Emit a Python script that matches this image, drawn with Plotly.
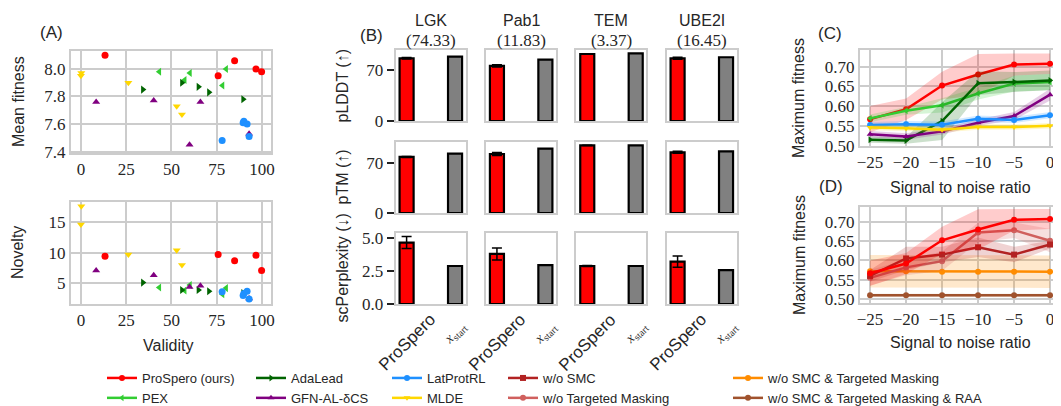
import plotly.graph_objects as go

# Reference canvas is 1061x406; the page body adds an 8px margin, so the figure
# is drawn 8px smaller and reference pixel positions are shifted by 8px.
W, H = 1061, 406
OFF = 8
FW, FH = W - OFF, H - OFF
SERIF = "Liberation Serif"
SANS = "Liberation Sans"
TXT = "#262626"
GRIDC = "#cccccc"

# ---------------- Data ----------------
# Panel A (validity vs mean fitness / novelty)
a_methods = ["ProSpero (ours)", "PEX", "AdaLead", "GFN-AL-δCS", "LatProtRL", "MLDE"]
a_validity_prospero = [13.3, 75.8, 84.9, 96.7, 99.8]
a_fitness_prospero = [8.10, 7.95, 8.06, 8.00, 7.98]
a_novelty_prospero = [9.4, 9.7, 8.7, 9.6, 7.1]
a_validity_pex = [43.3, 57.3, 60.2, 78.2, 80.2]
a_fitness_pex = [7.98, 7.92, 7.97, 7.88, 8.00]
a_novelty_pex = [4.3, 3.8, 4.7, 3.2, 4.2]
a_validity_adalead = [34.2, 55.8, 64.9, 70.7, 89.6]
a_fitness_adalead = [7.85, 7.90, 7.87, 7.83, 7.78]
a_novelty_adalead = [5.1, 3.9, 3.9, 3.7, 3.4]
a_validity_gfn = [8.4, 40.2, 60.0, 66.0, 92.9]
a_fitness_gfn = [7.76, 7.77, 7.45, 7.76, 7.53]
a_novelty_gfn = [7.1, 6.3, 4.4, 4.6, 2.5]
a_validity_latprot = [78.0, 89.6, 90.0, 91.8, 92.9]
a_fitness_latprot = [7.48, 7.61, 7.62, 7.60, 7.51]
a_novelty_latprot = [3.6, 3.0, 3.3, 3.7, 2.4]
a_validity_mlde = [0.0, 0.2, 26.2, 52.9, 55.8]
a_fitness_mlde = [7.95, 7.97, 7.90, 7.73, 7.67]
a_novelty_mlde = [14.6, 17.6, 9.7, 10.4, 8.0]

# Panel B (structure metrics)
proteins = ["LGK", "Pab1", "TEM", "UBE2I"]
protein_scores = ["(74.33)", "(11.83)", "(3.37)", "(16.45)"]
bar_labels = ["ProSpero", "<i>x</i><sub>start</sub>"]
plddt_prospero = [86.6, 76.0, 92.5, 86.6]
plddt_prospero_err = [1.0, 1.5, 0.3, 1.5]
plddt_start = [88.8, 84.7, 93.4, 88.0]
ptm_prospero = [77.9, 82.0, 94.0, 84.4]
ptm_prospero_err = [0.6, 2.0, 0.3, 1.5]
ptm_start = [82.5, 89.5, 94.0, 85.8]
perp_prospero = [4.64, 3.78, 2.87, 3.20]
perp_prospero_err = [0.45, 0.45, 0.03, 0.42]
perp_start = [2.87, 2.94, 2.87, 2.55]
b_row_titles = ["pLDDT (↑)", "pTM (↑)", "scPerplexity (↓)"]

# Panel C / D (max fitness vs SNR)
snr = [-25, -20, -15, -10, -5, 0]
c_prospero = [0.567, 0.592, 0.652, 0.680, 0.705, 0.707]
c_prospero_std = [0.033, 0.027, 0.035, 0.052, 0.028, 0.026]
c_pex = [0.569, 0.588, 0.602, 0.632, 0.657, 0.661]
c_pex_std = [0.010, 0.010, 0.018, 0.015, 0.020, 0.020]
c_adalead = [0.515, 0.513, 0.562, 0.658, 0.661, 0.665]
c_adalead_std = [0.008, 0.008, 0.048, 0.030, 0.025, 0.025]
c_gfn = [0.529, 0.523, 0.536, 0.558, 0.575, 0.629]
c_gfn_std = [0.008, 0.008, 0.008, 0.008, 0.010, 0.015]
c_latprot = [0.552, 0.554, 0.553, 0.568, 0.565, 0.577]
c_latprot_std = [0.008, 0.008, 0.008, 0.008, 0.008, 0.008]
c_mlde = [0.546, 0.544, 0.540, 0.547, 0.547, 0.550]
c_mlde_std = [0.007, 0.007, 0.007, 0.007, 0.007, 0.007]

d_wo_smc = [0.560, 0.605, 0.615, 0.634, 0.615, 0.641]
d_wo_smc_std = [0.015, 0.030, 0.020, 0.025, 0.020, 0.010]
d_wo_tm = [0.555, 0.582, 0.598, 0.672, 0.678, 0.651]
d_wo_tm_std = [0.020, 0.020, 0.025, 0.025, 0.020, 0.030]
d_wo_smc_tm = [0.572, 0.572, 0.571, 0.571, 0.571, 0.571]
d_wo_smc_tm_std = [0.042, 0.042, 0.042, 0.042, 0.042, 0.042]
d_wo_raa = [0.510, 0.510, 0.510, 0.510, 0.510, 0.510]
d_wo_raa_std = [0.004, 0.004, 0.004, 0.004, 0.004, 0.004]


def px(x):
    return (x - OFF) / FW


def py(y):
    return 1 - (y - OFF) / FH


fig = go.Figure()
layout = {}


def axname(i, kind):
    return kind + ("axis" if i == 1 else f"axis{i}")


def ref(i, kind):
    return kind if i == 1 else f"{kind}{i}"


def add_axes(i, x0, x1, y0, y1, xo, yo):
    layout[axname(i, "x")] = dict(domain=[px(x0), px(x1)], anchor=ref(i, "y"), automargin=False, **xo)
    layout[axname(i, "y")] = dict(domain=[py(y1), py(y0)], anchor=ref(i, "x"), automargin=False, **yo)


TICKF = dict(family=SERIF, size=17, color=TXT)
GRIDAX = dict(showgrid=True, gridcolor=GRIDC, gridwidth=1.5, showline=True, linecolor=GRIDC,
              linewidth=2, mirror=True, zeroline=False, ticks="", tickfont=TICKF)

# ---------- Panel A ----------
add_axes(1, 71, 271, 51, 153,
         dict(GRIDAX, range=[-5.5, 105], tickvals=[0, 25, 50, 75, 100]),
         dict(GRIDAX, range=[7.39, 8.13], tickvals=[7.4, 7.6, 7.8, 8.0], ticktext=["7.4", "7.6", "7.8", "8.0"]))
add_axes(2, 71, 271, 202, 304,
         dict(GRIDAX, range=[-5.5, 105], tickvals=[0, 25, 50, 75, 100]),
         dict(GRIDAX, range=[1.6, 18.3], tickvals=[5, 10, 15]))

a_series = [
    (a_validity_prospero, a_fitness_prospero, a_novelty_prospero, "#ff0000", "circle"),
    (a_validity_pex, a_fitness_pex, a_novelty_pex, "#32cd32", "triangle-left"),
    (a_validity_adalead, a_fitness_adalead, a_novelty_adalead, "#006400", "triangle-right"),
    (a_validity_gfn, a_fitness_gfn, a_novelty_gfn, "#800080", "triangle-up"),
    (a_validity_latprot, a_fitness_latprot, a_novelty_latprot, "#1e90ff", "circle"),
    (a_validity_mlde, a_fitness_mlde, a_novelty_mlde, "#ffd700", "triangle-down"),
]
for name, (vx, fy, ny, col, sym) in zip(a_methods, a_series):
    fig.add_trace(go.Scatter(x=vx, y=fy, mode="markers", name=name, showlegend=False,
                             marker=dict(color=col, symbol=sym, size=7), xaxis="x", yaxis="y"))
    fig.add_trace(go.Scatter(x=vx, y=ny, mode="markers", name=name, showlegend=False,
                             marker=dict(color=col, symbol=sym, size=7), xaxis="x2", yaxis="y2"))

# ---------- Panel B ----------
rows = [
    (plddt_prospero, plddt_prospero_err, plddt_start, [0, 98.0], [0, 70], ["0", "70"]),
    (ptm_prospero, ptm_prospero_err, ptm_start, [0, 98.7], [0, 70], ["0", "70"]),
    (perp_prospero, perp_prospero_err, perp_start, [0, 5.36], [0, 2.5, 5.0], ["0.0", "2.5", "5.0"]),
]
row_y = [(50, 121), (142, 213), (233, 304)]
ann = []
for r, (pv, pe, sv, yr, tv, tt) in enumerate(rows):
    for c in range(4):
        i = 3 + r * 4 + c
        x0 = 395.7 + 90.33 * c
        xo = dict(range=[-0.225, 1.22], showline=True, linecolor=GRIDC, linewidth=2, mirror=True,
                  showgrid=False, zeroline=False, ticks="", tickvals=[0, 1], showticklabels=False)
        yo = dict(range=yr, showline=True, linecolor=GRIDC, linewidth=2, mirror=True,
                  showgrid=False, zeroline=False, tickvals=tv, ticktext=tt, tickfont=TICKF)
        if c == 0:
            yo.update(ticks="outside", ticklen=7, tickwidth=2, tickcolor="#222")
        else:
            yo.update(ticks="", showticklabels=False)
        add_axes(i, x0, x0 + 70, row_y[r][0], row_y[r][1], xo, yo)
        fig.add_trace(go.Bar(x=[0], y=[pv[c]], width=0.29, showlegend=False,
                             marker=dict(color="#ff0000", line=dict(color="black", width=2.2)),
                             error_y=dict(type="data", array=[pe[c]], color="black", thickness=1.5, width=5),
                             xaxis=ref(i, "x"), yaxis=ref(i, "y")))
        fig.add_trace(go.Bar(x=[1], y=[sv[c]], width=0.29, showlegend=False,
                             marker=dict(color="#808080", line=dict(color="black", width=2.2)),
                             xaxis=ref(i, "x"), yaxis=ref(i, "y")))
        if r == 2:
            # rotated category labels, centred under each bar (matplotlib-style)
            ann.append(dict(x=0, y=py(342), xref=ref(i, "x"), yref="paper", text=bar_labels[0],
                            showarrow=False, textangle=-45, xanchor="center", yanchor="middle",
                            font=dict(family=SANS, size=17, color=TXT), borderpad=0))
            ann.append(dict(x=1, y=py(333), xref=ref(i, "x"), yref="paper", text=bar_labels[1],
                            showarrow=False, textangle=-45, xanchor="center", yanchor="middle",
                            font=dict(family=SERIF, size=14, color=TXT), borderpad=0))

# ---------- Panel C / D ----------
cd_x = dict(GRIDAX, range=[-26.4, 1.1], tickvals=snr)
add_axes(15, 860, 1058, 50, 146, cd_x,
         dict(GRIDAX, range=[0.499, 0.742], tickvals=[0.5, 0.55, 0.6, 0.65, 0.7],
              ticktext=["0.50", "0.55", "0.60", "0.65", "0.70"]))
add_axes(16, 860, 1058, 207, 303, cd_x,
         dict(GRIDAX, range=[0.49, 0.738], tickvals=[0.5, 0.55, 0.6, 0.65, 0.7],
              ticktext=["0.50", "0.55", "0.60", "0.65", "0.70"]))


def rgba(hexc, a):
    h = hexc.lstrip("#")
    return f"rgba({int(h[0:2],16)},{int(h[2:4],16)},{int(h[4:6],16)},{a})"


def add_line(i, name, ys, sd, col, sym, legend, showlegend):
    up = [m + s for m, s in zip(ys, sd)]
    lo = [m - s for m, s in zip(ys, sd)]
    fig.add_trace(go.Scatter(x=snr + snr[::-1], y=up + lo[::-1], fill="toself", mode="lines",
                             line=dict(width=0), fillcolor=rgba(col, 0.2), hoverinfo="skip",
                             showlegend=False, xaxis=ref(i, "x"), yaxis=ref(i, "y")))
    fig.add_trace(go.Scatter(x=snr, y=ys, mode="lines+markers", name=name, legend=legend,
                             showlegend=showlegend, line=dict(color=col, width=2.5),
                             marker=dict(color=col, symbol=sym, size=6),
                             xaxis=ref(i, "x"), yaxis=ref(i, "y")))


c_series = [
    ("ProSpero (ours)", c_prospero, c_prospero_std, "#ff0000", "circle", "legend"),
    ("PEX", c_pex, c_pex_std, "#32cd32", "triangle-left", "legend"),
    ("AdaLead", c_adalead, c_adalead_std, "#006400", "triangle-right", "legend2"),
    ("GFN-AL-δCS", c_gfn, c_gfn_std, "#800080", "triangle-up", "legend2"),
    ("LatProtRL", c_latprot, c_latprot_std, "#1e90ff", "circle", "legend3"),
    ("MLDE", c_mlde, c_mlde_std, "#ffd700", "triangle-down", "legend3"),
]
for name, ys, sd, col, sym, lg in c_series:
    add_line(15, name, ys, sd, col, sym, lg, True)

d_series = [
    ("w/o SMC & Targeted Masking & RAA", d_wo_raa, d_wo_raa_std, "#a0522d", "circle", "legend5", True),
    ("w/o SMC & Targeted Masking", d_wo_smc_tm, d_wo_smc_tm_std, "#ff8c00", "circle", "legend5", True),
    ("w/o Targeted Masking", d_wo_tm, d_wo_tm_std, "#d0605e", "circle", "legend4", True),
    ("w/o SMC", d_wo_smc, d_wo_smc_std, "#b22222", "square", "legend4", True),
    ("ProSpero (ours)", c_prospero, c_prospero_std, "#ff0000", "circle", "legend", False),
]
for name, ys, sd, col, sym, lg, sl in d_series:
    add_line(16, name, ys, sd, col, sym, lg, sl)

# ---------- Legends ----------
leg_x = [102, 251, 387, 503, 728]
for k, lx in enumerate(leg_x):
    key = "legend" if k == 0 else f"legend{k+1}"
    layout[key] = dict(x=px(lx), y=py(363), xanchor="left", yanchor="top", bgcolor="rgba(0,0,0,0)",
                       font=dict(family=SANS, size=13, color=TXT), tracegroupgap=0,
                       traceorder="reversed" if k >= 3 else "normal", itemwidth=30)

# ---------- Annotations ----------


def text(x, y, s, size=16, family=SANS, angle=0, xanchor="center"):
    ann.append(dict(x=px(x), y=py(y), xref="paper", yref="paper", text=s, showarrow=False,
                    font=dict(family=family, size=size, color=TXT), textangle=angle,
                    xanchor=xanchor, yanchor="middle", borderpad=0))


text(51.5, 33, "(A)", 17)
text(371, 35, "(B)", 17)
text(830, 34, "(C)", 17)
text(831, 186, "(D)", 17)
text(18, 102, "Mean fitness", 16, angle=-90)
text(18, 253, "Novelty", 16, angle=-90)
text(168, 345, "Validity", 16)
for r, t in enumerate(b_row_titles):
    text(342, (row_y[r][0] + row_y[r][1]) / 2, t, 16, angle=-90)
for c in range(4):
    cx = 395.7 + 90.33 * c + 35
    text(cx, 20, proteins[c], 16)
    text(cx, 40, protein_scores[c], 17, family=SERIF)
text(799, 98, "Maximum fitness", 16, angle=-90)
text(799, 255, "Maximum fitness", 16, angle=-90)
text(960, 187, "Signal to noise ratio", 16)
text(960, 342, "Signal to noise ratio", 16)

fig.update_layout(width=FW, height=FH, margin=dict(l=0, r=0, t=0, b=0, autoexpand=False), plot_bgcolor="white",
                  paper_bgcolor="white", annotations=ann, barmode="overlay", **layout)

fig.write_html("out.html")
